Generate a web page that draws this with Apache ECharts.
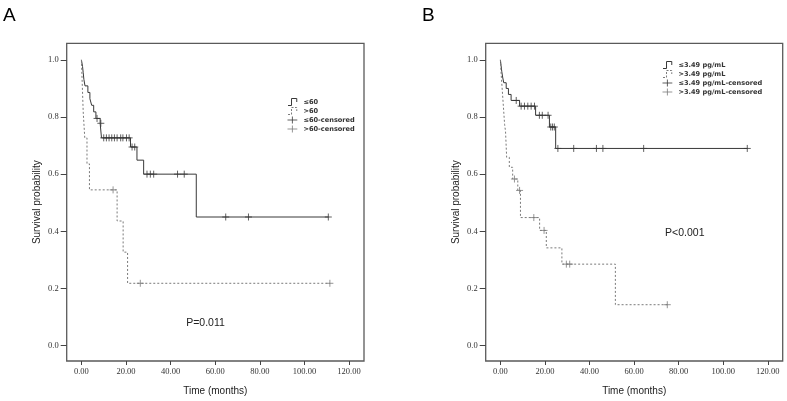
<!DOCTYPE html>
<html><head><meta charset="utf-8">
<script src="https://cdn.jsdelivr.net/npm/echarts@6/dist/echarts.min.js"></script>
<style>html,body{margin:0;background:#fff}#c{width:787px;height:401px}</style>
</head><body><div id="c"></div>
<script>
// ---- tick labels ----
const xTicks = [0, 20, 40, 60, 80, 100, 120];
const xTickLabels = ['0.00', '20.00', '40.00', '60.00', '80.00', '100.00', '120.00'];
const yTicks = [0, 0.2, 0.4, 0.6, 0.8, 1.0];
const yTickLabels = ['0.0', '0.2', '0.4', '0.6', '0.8', '1.0'];

// ---- Panel A: age groups ----
const aNames = ['≤60', '>60', '≤60-censored', '>60-censored'];
const aLowTime = [0, 0.5, 0.8, 1.1, 1.6, 2.9, 3.8, 4.6, 5.5, 6.5, 8.4, 9.0, 22.0, 24.9, 27.9, 51.5, 110.7];
const aLowSurv = [1.0, 0.977, 0.955, 0.932, 0.909, 0.886, 0.864, 0.841, 0.818, 0.795, 0.778, 0.727, 0.695, 0.649, 0.600, 0.450, 0.450];
const aLowCensTime = [7.0, 8.7, 10.0, 11.2, 12.4, 13.6, 14.8, 16.0, 17.6, 18.6, 20.2, 21.4, 22.7, 23.9, 29.4, 30.9, 32.4, 43.1, 46.1, 64.7, 74.9, 110.7];
const aLowCensSurv = [0.795, 0.778, 0.727, 0.727, 0.727, 0.727, 0.727, 0.727, 0.727, 0.727, 0.727, 0.727, 0.695, 0.695, 0.600, 0.600, 0.600, 0.600, 0.600, 0.450, 0.450, 0.450];
const aHighTime = [0, 0.4, 0.8, 1.5, 2.5, 3.6, 16.0, 18.7, 20.7, 111.4];
const aHighSurv = [1.0, 0.909, 0.818, 0.727, 0.636, 0.545, 0.436, 0.327, 0.218, 0.218];
const aHighCensTime = [14.2, 26.4, 111.4];
const aHighCensSurv = [0.545, 0.218, 0.218];

// ---- Panel B: 3.49 pg/mL groups ----
const bNames = ['≤3.49 pg/mL', '>3.49 pg/mL', '≤3.49 pg/mL-censored', '>3.49 pg/mL-censored'];
const bLowTime = [0, 0.3, 0.6, 1.0, 1.5, 2.6, 3.6, 4.8, 8.6, 15.8, 22.0, 24.8, 110.8];
const bLowSurv = [1.0, 0.98, 0.96, 0.94, 0.92, 0.90, 0.879, 0.858, 0.838, 0.806, 0.765, 0.690, 0.690];
const bLowCensTime = [7.1, 9.3, 10.8, 12.3, 13.8, 15.3, 17.5, 18.8, 21.4, 22.6, 23.4, 24.2, 25.8, 32.9, 43.1, 46.0, 64.3, 110.8];
const bLowCensSurv = [0.858, 0.838, 0.838, 0.838, 0.838, 0.838, 0.806, 0.806, 0.806, 0.765, 0.765, 0.765, 0.690, 0.690, 0.690, 0.690, 0.690, 0.690];
const bHighTime = [0, 0.3, 0.7, 1.1, 1.5, 1.9, 2.3, 2.8, 4.0, 5.5, 7.8, 9.0, 17.6, 20.6, 27.6, 51.6, 74.9];
const bHighSurv = [1.0, 0.955, 0.909, 0.864, 0.818, 0.773, 0.750, 0.659, 0.624, 0.583, 0.543, 0.448, 0.403, 0.342, 0.285, 0.143, 0.143];
const bHighCensTime = [6.3, 8.6, 15.0, 19.6, 29.6, 31.1, 74.9];
const bHighCensSurv = [0.583, 0.543, 0.448, 0.403, 0.285, 0.285, 0.143];

const zip = (t, s) => t.map((v, i) => [v, s[i]]);

const DARK = '#383838', LIGHT = '#7a7a7a';
const serif = "'Liberation Serif', 'Times New Roman', serif";
const sans = "'Liberation Sans', Arial, sans-serif";
const cross = 'path://M0,5L10,5M5,0L5,10';
const stepIcon = 'path://M0,9L4,9L4,1L10,1L10,5';

function xAxis(gi) {
  return {
    type: 'value', gridIndex: gi, min: -6.6, max: 126.7,
    name: 'Time (months)', nameLocation: 'middle', nameGap: 25,
    nameTextStyle: { fontFamily: sans, fontSize: 10, color: '#222' },
    axisLine: { show: false, onZero: false }, splitLine: { show: false },
    axisTick: { show: true, length: 4, customValues: xTicks, lineStyle: { color: '#444' } },
    axisLabel: { customValues: xTicks, margin: 6, fontFamily: serif, fontSize: 8.5, color: '#333',
      formatter: v => xTickLabels[xTicks.indexOf(v)] }
  };
}
function yAxis(gi) {
  return {
    type: 'value', gridIndex: gi, min: -0.054, max: 1.058,
    name: 'Survival probability', nameLocation: 'middle', nameGap: 24,
    nameTextStyle: { fontFamily: sans, fontSize: 10, color: '#222' },
    axisLine: { show: false, onZero: false }, splitLine: { show: false },
    axisTick: { show: true, length: 6, customValues: yTicks, lineStyle: { color: '#444' } },
    axisLabel: { customValues: yTicks, margin: 8, fontFamily: serif, fontSize: 8.5, color: '#333',
      formatter: v => yTickLabels[yTicks.indexOf(Math.round(v * 10) / 10)] }
  };
}
function lineSeries(name, gi, t, s, color, dashed) {
  return { type: 'line', name, xAxisIndex: gi, yAxisIndex: gi, step: 'end', data: zip(t, s),
    symbol: 'none', lineStyle: { color, width: 1, type: dashed ? [2, 2] : 'solid' },
    itemStyle: { color }, animation: false, z: 2 };
}
function censSeries(name, gi, t, s, color) {
  return { type: 'scatter', name, xAxisIndex: gi, yAxisIndex: gi, data: zip(t, s),
    symbol: cross, symbolSize: [7, 7],
    itemStyle: { color: 'none', borderColor: color, borderWidth: 1 }, animation: false, z: 3 };
}
function legendData(names) {
  return [
    { name: names[0], icon: stepIcon, itemStyle: { color: 'none', borderColor: DARK, borderWidth: 1 } },
    { name: names[1], icon: stepIcon, itemStyle: { color: 'none', borderColor: LIGHT, borderWidth: 1, borderType: [2, 1.5] } },
    { name: names[2], icon: 'path://M0,5L14,5M7,0L7,10', itemStyle: { color: 'none', borderColor: DARK, borderWidth: 1 } },
    { name: names[3], icon: 'path://M0,5L14,5M7,0L7,10', itemStyle: { color: 'none', borderColor: LIGHT, borderWidth: 1 } }
  ];
}
const legendText = { fontFamily: "'DejaVu Sans', Verdana, sans-serif", fontSize: 6.6, color: '#333', fontWeight: 'bold' };

const chart = echarts.init(document.getElementById('c'), null, { renderer: 'canvas' });
chart.setOption({
  backgroundColor: '#fff',
  animation: false,
  grid: [
    { left: 66.7, top: 43.3, width: 297.3, height: 320, show: true, borderColor: '#5a5a5a', borderWidth: 1.3, backgroundColor: 'transparent' },
    { left: 485.7, top: 43.3, width: 297, height: 320, show: true, borderColor: '#5a5a5a', borderWidth: 1.3, backgroundColor: 'transparent' }
  ],
  xAxis: [xAxis(0), xAxis(1)],
  yAxis: [yAxis(0), yAxis(1)],
  legend: [
    { orient: 'vertical', left: 285, top: 96, padding: 0, itemWidth: 12, itemHeight: 7, itemGap: -3, data: legendData(aNames), textStyle: legendText, selectedMode: false },
    { orient: 'vertical', left: 660, top: 59, padding: 0, itemWidth: 12, itemHeight: 7, itemGap: -3, data: legendData(bNames), textStyle: legendText, selectedMode: false }
  ],
  series: [
    lineSeries(aNames[0], 0, aLowTime, aLowSurv, DARK, false),
    lineSeries(aNames[1], 0, aHighTime, aHighSurv, LIGHT, true),
    censSeries(aNames[2], 0, aLowCensTime, aLowCensSurv, DARK),
    censSeries(aNames[3], 0, aHighCensTime, aHighCensSurv, LIGHT),
    lineSeries(bNames[0], 1, bLowTime, bLowSurv, DARK, false),
    lineSeries(bNames[1], 1, bHighTime, bHighSurv, LIGHT, true),
    censSeries(bNames[2], 1, bLowCensTime, bLowCensSurv, DARK),
    censSeries(bNames[3], 1, bHighCensTime, bHighCensSurv, LIGHT)
  ],
  graphic: [
    { type: 'text', left: 3, top: 6, style: { text: 'A', fontFamily: sans, fontSize: 19, fill: '#000' } },
    { type: 'text', left: 422, top: 6, style: { text: 'B', fontFamily: sans, fontSize: 19, fill: '#000' } },
    { type: 'text', x: 205.5, y: 322.7, style: { text: 'P=0.011', align: 'center', verticalAlign: 'middle', fontFamily: sans, fontSize: 10.5, fill: '#222' } },
    { type: 'text', x: 684.8, y: 233.3, style: { text: 'P<0.001', align: 'center', verticalAlign: 'middle', fontFamily: sans, fontSize: 10.5, fill: '#222' } }
  ]
});
</script>
</body></html>
